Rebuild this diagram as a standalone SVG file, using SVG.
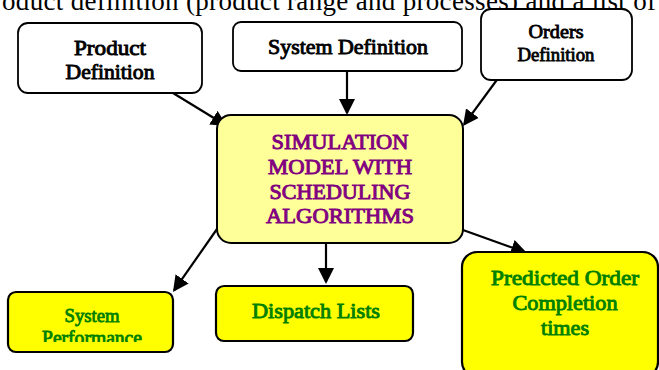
<svg xmlns="http://www.w3.org/2000/svg" width="659" height="370" viewBox="0 0 659 370">
<style>
text { font-family: "Liberation Serif", "Times New Roman", serif; text-anchor: middle; font-weight: normal; }
.body { font-size: 27px; text-anchor: start; fill: #000; }
.lbl { font-size: 21px; fill: #000; stroke: #000; stroke-width: 0.9; }
.lbl18 { font-size: 18px; fill: #000; stroke: #000; stroke-width: 0.8; }
.purple { font-size: 21px; fill: #800080; stroke: #800080; stroke-width: 0.9; }
.green { font-size: 21px; fill: #008000; stroke: #008000; stroke-width: 0.9; }
.green18 { font-size: 18px; fill: #008000; stroke: #008000; stroke-width: 0.8; }
.wbox { fill: #ffffff; stroke: #000; stroke-width: 1.8; }
.cbox { fill: #ffff99; stroke: #000; stroke-width: 2; }
.ybox { fill: #ffff00; stroke: #000; stroke-width: 2.2; }
.conn { fill: none; stroke: #000; stroke-width: 2.2; marker-end: url(#arrow); }
</style>
<defs>
<marker id="arrow" markerUnits="userSpaceOnUse" markerWidth="16" markerHeight="16" refX="14" refY="8" orient="auto">
<path d="M0,0 L16,8 L0,16 z" fill="#000"/>
</marker>
<clipPath id="clipPerf"><rect x="0" y="280" width="200" height="62"/></clipPath>
</defs>

<text class="body" x="2" y="10" textLength="654" lengthAdjust="spacing">oduct definition (product range and processes) and a list of</text>

<g id="connectors">
<line class="conn" x1="173" y1="93" x2="225.3" y2="125"/>
<line class="conn" x1="347" y1="71" x2="347" y2="113"/>
<line class="conn" x1="499" y1="77" x2="464.2" y2="124.4"/>
<line class="conn" x1="217" y1="229" x2="174.1" y2="290.4"/>
<line class="conn" x1="326" y1="243" x2="326" y2="282"/>
<line class="conn" x1="463" y1="230" x2="525.1" y2="252.3"/>
</g>

<g id="product-definition">
<rect class="wbox" x="18" y="23" width="184" height="70" rx="10"/>
<text class="lbl" x="110" y="55" textLength="72" lengthAdjust="spacingAndGlyphs">Product</text>
<text class="lbl" x="110" y="79" textLength="89" lengthAdjust="spacingAndGlyphs">Definition</text>
</g>

<g id="system-definition">
<rect class="wbox" x="233" y="22" width="229" height="49" rx="8"/>
<text class="lbl" x="348" y="54" textLength="160" lengthAdjust="spacingAndGlyphs">System Definition</text>
</g>

<g id="orders-definition">
<rect class="wbox" x="481" y="9" width="151" height="71" rx="10"/>
<text class="lbl18" x="556" y="38" textLength="55" lengthAdjust="spacingAndGlyphs">Orders</text>
<text class="lbl18" x="556" y="61" textLength="77" lengthAdjust="spacingAndGlyphs">Definition</text>
</g>

<g id="simulation-model">
<rect class="cbox" x="217" y="115" width="246" height="128" rx="14"/>
<text class="purple" x="340" y="149" textLength="137" lengthAdjust="spacingAndGlyphs">SIMULATION</text>
<text class="purple" x="340" y="174" textLength="144" lengthAdjust="spacingAndGlyphs">MODEL WITH</text>
<text class="purple" x="340" y="198.5" textLength="141" lengthAdjust="spacingAndGlyphs">SCHEDULING</text>
<text class="purple" x="340" y="223" textLength="148" lengthAdjust="spacingAndGlyphs">ALGORITHMS</text>
</g>

<g id="system-performance">
<rect class="ybox" x="8" y="292" width="165" height="60" rx="8"/>
<text class="green18" x="92" y="322" textLength="55" lengthAdjust="spacingAndGlyphs">System</text>
<text class="green18" x="92" y="343.5" textLength="100" lengthAdjust="spacingAndGlyphs" clip-path="url(#clipPerf)">Performance</text>
</g>

<g id="dispatch-lists">
<rect class="ybox" x="216" y="286" width="197" height="55" rx="8"/>
<text class="green" x="316" y="318" textLength="128" lengthAdjust="spacingAndGlyphs">Dispatch Lists</text>
</g>

<g id="predicted-order">
<rect class="ybox" x="462" y="252" width="196" height="125" rx="15"/>
<text class="green" x="565" y="285" textLength="148" lengthAdjust="spacingAndGlyphs">Predicted Order</text>
<text class="green" x="565" y="310" textLength="105" lengthAdjust="spacingAndGlyphs">Completion</text>
<text class="green" x="565" y="335" textLength="48" lengthAdjust="spacingAndGlyphs">times</text>
</g>
</svg>
